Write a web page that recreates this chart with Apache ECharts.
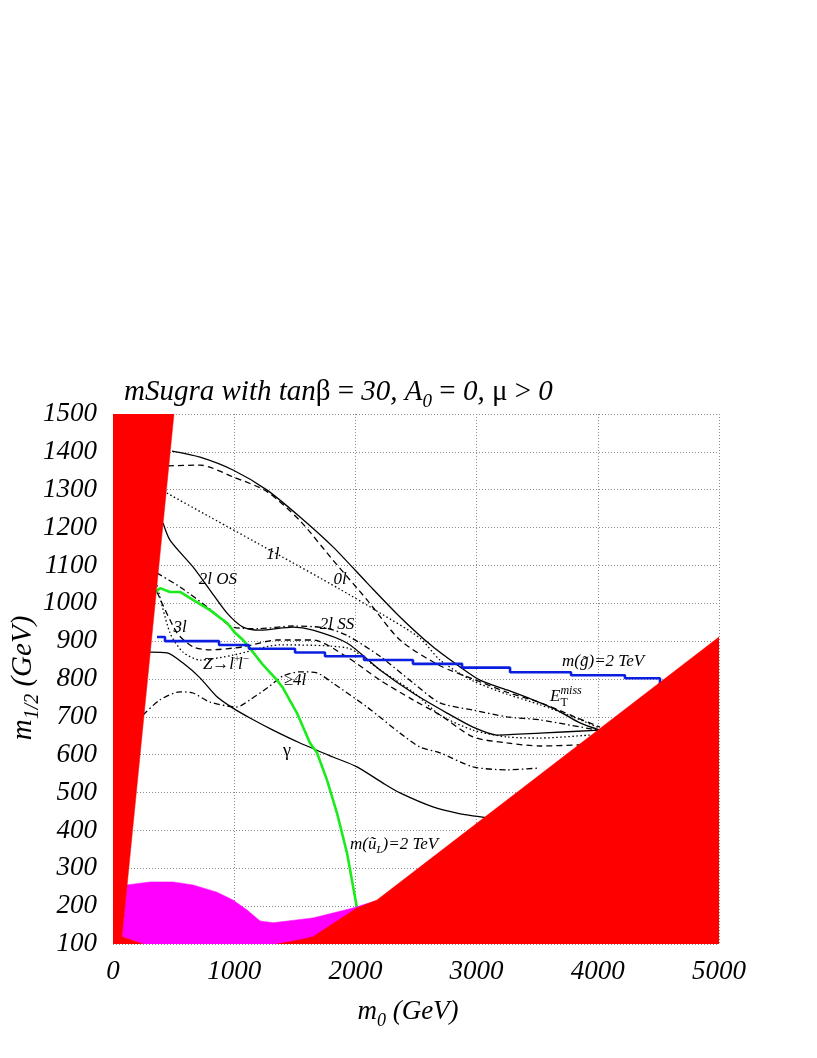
<!DOCTYPE html>
<html><head><meta charset="utf-8">
<script src="https://cdn.jsdelivr.net/npm/echarts@6/dist/echarts.min.js"></script>
<style>html,body{margin:0;padding:0;background:#fff}#c{width:817px;height:1058px}</style>
</head><body><div id="c"></div>
<script>
// ---- data (GeV) ----
const xRange = [0, 5000];
const yRange = [100, 1500];
const etMiss = [[487,1402],[718,1386],[990,1352],[1271,1299],[1543,1228],[1815,1149],[2096,1054],[2368,964],[2640,885],[2863,832],[3028,797],[3251,771],[3465,745],[3663,718],[3853,684],[4018,665]];
const zeroL = [[454,1363],[718,1365],[990,1334],[1271,1295],[1543,1218],[1815,1114],[2096,1009],[2368,903],[2698,835],[2970,800],[3251,765],[3523,738],[3795,702],[4018,673]];
const oneL = [[445,1291],[800,1228],[1320,1136],[1873,1037],[2200,975],[2533,908],[2698,850],[2970,795],[3251,760],[3523,732],[3795,700],[4018,670]];
const twoLOS = [[413,1212],[470,1167],[660,1096],[800,1035],[941,974],[1073,937],[1213,929],[1485,937],[1650,929],[1931,895],[2203,824],[2475,763],[2756,710],[2970,673],[3168,652],[3523,657],[4018,665]];
const twoLSS = [[363,1080],[553,1043],[800,985],[990,937],[1200,933],[1485,940],[1750,935],[1931,915],[2203,860],[2475,790],[2698,737],[2970,718],[3251,700],[3523,692],[3993,665]];
const threeL = [[363,1030],[528,922],[660,885],[800,877],[1073,885],[1353,903],[1650,903],[1931,858],[2203,797],[2475,745],[2698,705],[2970,647],[3251,631],[3523,623],[3853,626]];
const zll = [[363,1048],[470,922],[578,871],[718,850],[990,863],[1378,890],[1931,882],[2203,824],[2475,766],[2698,705],[2970,665],[3251,647],[3523,644],[3936,652]];
const fourL = [[248,705],[388,745],[553,766],[660,763],[800,739],[1023,726],[1130,745],[1271,776],[1403,808],[1543,819],[1683,816],[1815,789],[2096,726],[2368,657],[2533,620],[2698,605],[2970,568],[3251,560],[3523,565]];
const gammaL = [[305,871],[446,869],[578,842],[718,803],[858,753],[990,723],[1130,697],[1320,665],[1543,631],[1815,594],[2013,568],[2228,525],[2368,499],[2640,462],[2838,446],[3094,433]];
const squarkL = [[347,1027],[388,1040],[470,1030],[553,1030],[660,1009],[800,982],[941,948],[1007,922],[1073,903],[1155,871],[1238,837],[1353,797],[1403,776],[1518,710],[1625,631],[1683,605],[1766,533],[1848,446],[1931,340],[2013,195]];
const gluinoStepX = [363,429,875,1122,1502,1749,2071,2475,2880,3276,3779,4224,4513,4560];
const gluinoLevel = [911,900,890,880,870,860,850,840,830,818,810,802,787];
const magentaRegion = [[115,256],[305,264],[495,264],[660,256],[858,237],[990,216],[1106,190],[1213,161],[1320,156],[1650,169],[1980,195],[2150,212],[2150,100],[248,100],[74,119]];
const redLeft = [[0,100],[0,1500],[503,1500],[74,119],[248,100]];
const redRight = [[1353,100],[1543,111],[1650,119],[2013,195],[2178,216],[5000,911],[5000,100]];
const xTickLabels = ['0','1000','2000','3000','4000','5000'];

// ---- chart ----
const chart = echarts.init(document.getElementById('c'), null, {renderer:'canvas'});
const SERIF = '"Liberation Serif","DejaVu Serif",serif';
function line(data, type, color, width, smooth){
  return {type:'line', data, symbol:'none', showSymbol:false, smooth: smooth, silent:true,
    lineStyle:{color, width, type}, z:3};
}
function poly(pts, color, z){
  return {type:'custom', silent:true, z, data:[pts[0]], clip:true,
    renderItem:(p, api)=>({type:'polygon', shape:{points: pts.map(q=>api.coord(q))}, style:{fill:color, stroke:color, lineWidth:0.5}})};
}
const gluino = [];
for (let i=0;i<gluinoLevel.length;i++){ gluino.push([gluinoStepX[i], gluinoLevel[i]]); gluino.push([gluinoStepX[i+1], gluinoLevel[i]]); }

const DASH=[6,4], DOT=[1.5,2.5], DASHDOT=[6,3,1.5,3];
const gridLine = {show:true, lineStyle:{color:'#8a8a8a', width:1, type:[1,2]}};
chart.setOption({
  animation:false,
  backgroundColor:'#fff',
  grid:{left:113, top:414, right:98, bottom:114, containLabel:false},
  xAxis:{type:'value', min:xRange[0], max:xRange[1], interval:1000,
    axisLine:{show:false}, axisTick:{show:false}, splitLine:gridLine,
    axisLabel:{color:'#000', fontFamily:SERIF, fontStyle:'italic', fontSize:27, margin:14,
      formatter:(v)=>xTickLabels[Math.round(v/1000)]}},
  yAxis:{type:'value', min:yRange[0], max:yRange[1], interval:100,
    axisLine:{show:false}, axisTick:{show:false}, splitLine:gridLine,
    axisLabel:{color:'#000', fontFamily:SERIF, fontStyle:'italic', fontSize:27, margin:16,
      formatter:(v)=>String(v)}},
  series:[
    line(etMiss,'solid','#000',1.3,0.25),
    line(zeroL,DASH,'#000',1.3,0.25),
    line(oneL,DOT,'#000',1.3,0.25),
    line(twoLOS,'solid','#000',1.3,0.25),
    line(twoLSS,DASHDOT,'#000',1.3,0.25),
    line(threeL,DASH,'#000',1.3,0.25),
    line(zll,DOT,'#000',1.3,0.25),
    line(fourL,DASHDOT,'#000',1.3,0.25),
    line(gammaL,'solid','#000',1.3,0.25),
    line(squarkL,'solid','#1aeb1a',2.6,false),
    line(gluino,'solid','#0a1fe0',2.6,false),
    poly(magentaRegion,'#ff00ff',5),
    poly(redLeft,'#ff0000',6),
    poly(redRight,'#ff0000',6)
  ]
});

// ---- text annotations (rich pieces) ----
const cv = document.createElement('canvas').getContext('2d');
function font(size, it){ return (it?'italic ':'')+size+'px '+SERIF; }
function tw(t,size,it){ cv.font = font(size,it); return cv.measureText(t).width; }
// piece: [text, size, italic, dy, advanceOverride]
function group(pieces, x, y, align, rotation){
  let w=0; const widths = pieces.map(p=>{ const ww = (p[4]!==undefined)?p[4]:tw(p[0],p[1],p[2]); w+=ww; return ww;});
  let cx = align==='center' ? -w/2 : 0;
  const children = pieces.map((p,i)=>{ const el={type:'text', x:cx, y:p[3]||0, style:{text:p[0], font:font(p[1],p[2]), fill:'#000', verticalAlign:'middle', align:'left'}}; cx+=widths[i]; return el; });
  return {type:'group', x, y, rotation: rotation||0, children, silent:true, z:20};
}
const annotations = [
  {pieces:[['1l',17,true]], at:[1320,1130]},
  {pieces:[['0l',17,true]], at:[1873,1062]},
  {pieces:[['2l OS',17,true]], at:[866,1062]},
  {pieces:[['2l SS',17,true]], at:[1848,943]},
  {pieces:[['3l',17,true]], at:[553,935]},
  {pieces:[['Z\u2192l',17,true],['+',11,false,-6,4],['l',17,true],['\u2212',11,false,-6]], at:[932,837]},
  {pieces:[['\u22654l',17,true]], at:[1502,797]},
  {pieces:[['\u03b3',18,false]], at:[1436,610]},
  {pieces:[['m(\u0169',17,true],['L',11,true,5],[')=2 TeV',17,true]], at:[1955,362], left:true},
  {pieces:[['m(g\u0303)=2 TeV',17,true]], at:[3705,845], left:true},
  {pieces:[['E',17,true],['miss',12,true,-6,0],['T',12,false,6]], at:[3606,753], left:true}
];
function finalize(){
  const g = [];
  annotations.forEach(a=>{
    const p = chart.convertToPixel({gridIndex:0}, a.at);
    g.push(group(a.pieces, p[0], p[1], a.left?'left':'center'));
  });
  g.push(group([['mSugra with tan',29,true],['\u03b2',29,false],[' = ',29,false],['30, A',29,true],['0',19,true,10],[' = ',29,false],['0, ',29,true],['\u03bc',29,false],[' > ',29,false],['0',29,true]], 124, 392, 'left'));
  g.push(group([['m',27,true],['0',18,true,9],[' (GeV)',27,true]], 408, 1012, 'center'));
  g.push(group([['m',29,true],['1/2',20,true,10],[' (GeV)',29,true]], 23, 678, 'center', Math.PI/2));
  chart.setOption({graphic: g});
}
finalize();
</script></body></html>
